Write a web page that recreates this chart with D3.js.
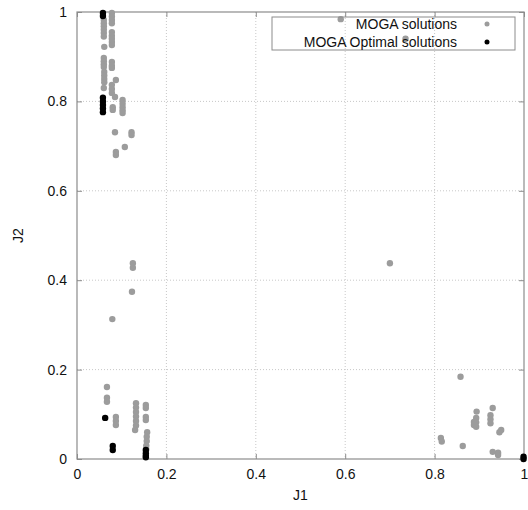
<!DOCTYPE html>
<html>

<head>
    <title>MOGA solutions</title>
    <script src="https://d3js.org/d3.v7.min.js"></script>
    <style>
        body {
            margin: 0;
            background: white;
        }

        text {
            font-family: "Liberation Sans", Arial, sans-serif;
        }

        .axis path {
            stroke: none;
        }

        .axis line {
            stroke: #8c8c8c;
        }

        .axis text {
            font-size: 14px;
            fill: #111;
        }

        .grid line {
            stroke: #c8c8c8;
            stroke-dasharray: 1, 2;
        }
    </style>
</head>

<body>
    <div id="chart"></div>

    <script>
        // MOGA solutions (gray)
        var mogaJ1 = [
            0.060, 0.060, 0.060, 0.060, 0.060, 0.060, 0.061, 0.060, 0.060, 0.060, 0.060,
            0.061, 0.061, 0.061, 0.061, 0.060,
            0.078, 0.078, 0.078, 0.078, 0.078, 0.078, 0.078, 0.078, 0.078,
            0.078, 0.078, 0.078, 0.078, 0.078, 0.078, 0.080, 0.080,
            0.087, 0.085, 0.102, 0.102, 0.102, 0.102, 0.102,
            0.085, 0.122, 0.122, 0.107, 0.087, 0.087,
            0.125, 0.125, 0.123, 0.079, 0.59, 0.735, 0.70,
            0.067, 0.067, 0.067, 0.087, 0.087, 0.087,
            0.132, 0.132, 0.132, 0.132, 0.132, 0.132, 0.130,
            0.154, 0.154, 0.154, 0.154, 0.157, 0.156, 0.156, 0.155, 0.155,
            0.858, 0.894, 0.893, 0.893, 0.893, 0.888, 0.888,
            0.930, 0.925, 0.925, 0.925, 0.949, 0.945,
            0.814, 0.816, 0.863, 0.930, 0.942, 0.942
        ];
        var mogaJ2 = [
            0.982, 0.975, 0.968, 0.961, 0.953, 0.945, 0.922, 0.897, 0.890, 0.883, 0.877,
            0.866, 0.858, 0.850, 0.843, 0.830,
            0.998, 0.990, 0.982, 0.975, 0.955, 0.947, 0.940, 0.933, 0.926,
            0.888, 0.880, 0.875, 0.837, 0.828, 0.819, 0.787, 0.781,
            0.848, 0.810, 0.803, 0.795, 0.787, 0.780, 0.774,
            0.731, 0.731, 0.725, 0.698, 0.687, 0.680,
            0.438, 0.428, 0.374, 0.313, 0.984, 0.940, 0.438,
            0.161, 0.137, 0.128, 0.094, 0.085, 0.076,
            0.125, 0.115, 0.105, 0.095, 0.085, 0.075, 0.065,
            0.121, 0.114, 0.094, 0.087, 0.060, 0.050, 0.040, 0.030, 0.022,
            0.184, 0.106, 0.092, 0.082, 0.072, 0.083, 0.076,
            0.114, 0.098, 0.089, 0.080, 0.065, 0.060,
            0.047, 0.039, 0.029, 0.016, 0.014, 0.009
        ];

        // MOGA optimal solutions (black)
        var optJ1 = [0.058, 0.058, 0.058, 0.058, 0.058, 0.058, 0.058, 0.063, 0.080, 0.080,
            0.154, 0.154, 0.154, 0.154, 0.999, 0.999];
        var optJ2 = [0.998, 0.991, 0.808, 0.800, 0.792, 0.784, 0.776, 0.092, 0.029, 0.020,
            0.020, 0.013, 0.007, 0.004, 0.005, 0.000];

        var tickVals = [0, 0.2, 0.4, 0.6, 0.8, 1];
        var seriesNames = ["MOGA solutions", "MOGA Optimal solutions"];
        var seriesColors = ["#9c9c9c", "#000000"];

        var margin = { top: 12, right: 4, bottom: 51, left: 77 },
            width = 528 - margin.left - margin.right,
            height = 510 - margin.top - margin.bottom;

        var svg = d3.select("#chart")
            .append("svg")
            .attr("width", 528)
            .attr("height", 510);

        var g = svg.append("g")
            .attr("transform", "translate(" + margin.left + "," + margin.top + ")");

        var x = d3.scaleLinear().domain([0, 1]).range([0, width]);
        var y = d3.scaleLinear().domain([0, 1]).range([height, 0]);

        // grid lines (dotted)
        g.append("g").attr("class", "grid")
            .selectAll("line").data(tickVals.slice(1, -1)).enter().append("line")
            .attr("x1", d => x(d)).attr("x2", d => x(d))
            .attr("y1", 0).attr("y2", height);
        g.append("g").attr("class", "grid")
            .selectAll("line").data(tickVals.slice(1, -1)).enter().append("line")
            .attr("y1", d => y(d)).attr("y2", d => y(d))
            .attr("x1", 0).attr("x2", width);

        // axes with inward ticks, mirrored on top/right
        var fmt = d3.format("~g");
        g.append("g").attr("class", "axis")
            .attr("transform", "translate(0," + height + ")")
            .call(d3.axisBottom(x).tickValues(tickVals).tickFormat(fmt).tickSizeInner(-5).tickSizeOuter(0).tickPadding(10));
        g.append("g").attr("class", "axis")
            .call(d3.axisLeft(y).tickValues(tickVals).tickFormat(fmt).tickSizeInner(-5).tickSizeOuter(0).tickPadding(10));
        g.append("g").attr("class", "axis")
            .call(d3.axisTop(x).tickValues(tickVals).tickFormat("").tickSizeInner(-5).tickSizeOuter(0));
        g.append("g").attr("class", "axis")
            .attr("transform", "translate(" + width + ",0)")
            .call(d3.axisRight(y).tickValues(tickVals).tickFormat("").tickSizeInner(-5).tickSizeOuter(0));

        // frame
        g.append("rect")
            .attr("width", width).attr("height", height)
            .attr("fill", "none").attr("stroke", "#8c8c8c").attr("stroke-width", 1.2);

        // axis titles
        svg.append("text")
            .attr("x", margin.left + width / 2).attr("y", 500)
            .attr("text-anchor", "middle").attr("font-size", 14).attr("fill", "#111")
            .text("J1");
        svg.append("text")
            .attr("transform", "translate(23," + (margin.top + height / 2) + ") rotate(-90)")
            .attr("text-anchor", "middle").attr("font-size", 14).attr("fill", "#111")
            .text("J2");

        // points
        g.append("g").selectAll("circle")
            .data(mogaJ1.map((v, i) => ({ j1: v, j2: mogaJ2[i] })))
            .enter().append("circle")
            .attr("cx", d => x(d.j1)).attr("cy", d => y(d.j2))
            .attr("r", 3.2).attr("fill", seriesColors[0]);

        g.append("g").selectAll("circle")
            .data(optJ1.map((v, i) => ({ j1: v, j2: optJ2[i] })))
            .enter().append("circle")
            .attr("cx", d => x(d.j1)).attr("cy", d => y(d.j2))
            .attr("r", 3.2).attr("fill", seriesColors[1]);

        // legend
        var legend = svg.append("g");
        legend.append("rect")
            .attr("x", 272).attr("y", 17).attr("width", 243).attr("height", 33)
            .attr("fill", "none").attr("stroke", "#8c8c8c");
        seriesNames.forEach(function (name, i) {
            legend.append("text")
                .attr("x", 457).attr("y", 29 + i * 18)
                .attr("text-anchor", "end").attr("font-size", 14).attr("fill", "#111")
                .text(name);
            legend.append("circle")
                .attr("cx", 487).attr("cy", 24 + i * 18)
                .attr("r", 2.5).attr("fill", seriesColors[i]);
        });
    </script>
</body>

</html>
